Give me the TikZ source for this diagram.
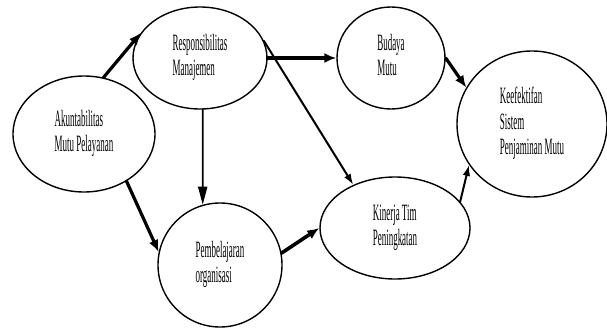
\documentclass[tikz,border=0pt]{standalone}
\usepackage{fontspec}
\setmainfont{Liberation Serif}
\usepackage{graphicx}
\usepackage{tikz}
\usetikzlibrary{arrows.meta,shapes.geometric}
% narrow, tall text lines
\newcommand{\vartext}[1]{\scalebox{0.46}[1.2]{\begin{tabular}{@{}l@{}}#1\end{tabular}}}
\tikzset{
every picture/.style={line cap=round,line join=round},
var node/.style={
  ellipse,
  draw=black,
  line width=1.4pt,
  inner sep=0pt,
  font=\fontsize{19.5}{21.25}\selectfont
},
fig flow/.style={
  draw=black,
  -{Latex[length=12pt,width=10pt]},
  line width=3.2pt
},
fig thin/.style={
  draw=black,
  -{Latex[length=11pt,width=7.5pt]},
  line width=2pt
},
fig drop/.style={
  draw=black,
  -{Triangle[length=18pt,width=9pt]},
  line width=1.8pt
}
}

\begin{document}
\begin{tikzpicture}[x=1pt,y=-1pt]
\useasboundingbox (0,0) rectangle (607,329);
\node[var node,minimum width=142pt,minimum height=116pt] (akun) at (84,134) {\vartext{Akuntabilitas\\Mutu Pelayanan}};
\node[var node,minimum width=134pt,minimum height=102pt] (resp) at (200,58) {\vartext{Responsibilitas\\Manajemen}};
\node[var node,minimum width=108pt,minimum height=102pt] (budaya) at (391,58) {\vartext{Budaya\\Mutu}};
\node[var node,minimum width=150pt,minimum height=146pt] (keef) at (532,124) {\vartext{Keefektifan\\Sistem\\Penjaminan Mutu}};
\node[var node,minimum width=124pt,minimum height=124pt] (pemb) at (220,265) {\raisebox{10pt}{\vartext{Pembelajaran\\organisasi}}};
\node[var node,minimum width=150pt,minimum height=102pt] (kinerja) at (395,228) {\vartext{Kinerja Tim\\Peningkatan}};
\draw[fig flow] (akun.71) -- (resp.157);
\draw[fig flow] (akun.312) -- (pemb.168);
\draw[fig drop] (resp.273) -- (pemb.106);
\draw[fig flow,line width=3.6pt] (resp.east) -- (budaya.west);
\draw[fig thin] (resp.15) -- (kinerja.134);
\draw[fig flow] (budaya.east) -- (keef.151);
\draw[fig flow,line width=3.6pt] (pemb.11) -- (kinerja.west);
\draw[fig thin] (kinerja.22) -- (keef.213);
\end{tikzpicture}
\end{document}
